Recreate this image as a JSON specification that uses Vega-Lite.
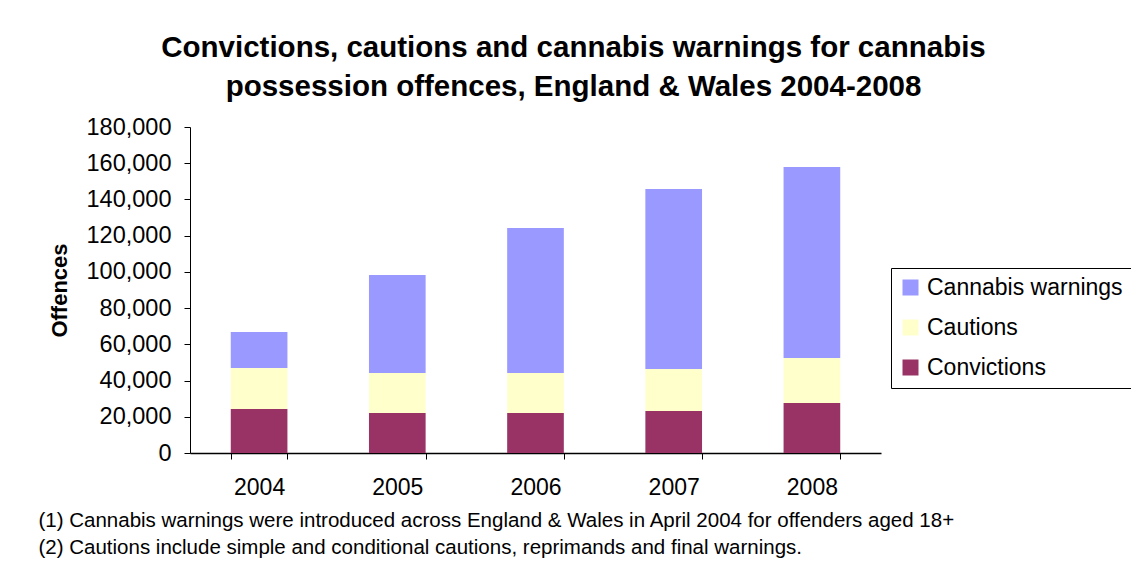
{
  "$schema": "https://vega.github.io/schema/vega-lite/v6.json",
  "width": 691,
  "height": 326,
  "autosize": {"type": "none"},
  "padding": {"left": 190, "top": 127, "right": 250, "bottom": 109},
  "background": "white",
  "config": {
    "view": {"stroke": null},
    "font": "Liberation Sans"
  },
  "title": {
    "text": ["Convictions, cautions and cannabis warnings for cannabis", "possession offences, England & Wales 2004-2008"],
    "fontSize": 29.5,
    "fontWeight": "bold",
    "font": "Liberation Sans",
    "color": "black",
    "anchor": "middle",
    "frame": "group",
    "dx": 38,
    "lineHeight": 39,
    "baseline": "bottom",
    "offset": -16
  },
  "data": {
    "values": [
      {"year": "2004", "category": "Convictions", "offences": 24300},
      {"year": "2004", "category": "Cautions", "offences": 22600},
      {"year": "2004", "category": "Cannabis warnings", "offences": 19900},
      {"year": "2005", "category": "Convictions", "offences": 22100},
      {"year": "2005", "category": "Cautions", "offences": 22100},
      {"year": "2005", "category": "Cannabis warnings", "offences": 54100},
      {"year": "2006", "category": "Convictions", "offences": 22100},
      {"year": "2006", "category": "Cautions", "offences": 22100},
      {"year": "2006", "category": "Cannabis warnings", "offences": 80000},
      {"year": "2007", "category": "Convictions", "offences": 23200},
      {"year": "2007", "category": "Cautions", "offences": 23200},
      {"year": "2007", "category": "Cannabis warnings", "offences": 99400},
      {"year": "2008", "category": "Convictions", "offences": 27600},
      {"year": "2008", "category": "Cautions", "offences": 24900},
      {"year": "2008", "category": "Cannabis warnings", "offences": 105400}
    ]
  },
  "mark": {"type": "bar"},
  "encoding": {
    "x": {
      "field": "year",
      "type": "nominal",
      "scale": {"paddingInner": 0.59, "paddingOuter": 0.295},
      "axis": {
        "labelAngle": 0,
        "labelFontSize": 23,
        "labelColor": "black",
        "labelPadding": 17,
        "tickBand": "extent",
        "tickSize": 6,
        "tickColor": "black",
        "domainColor": "black",
        "domainWidth": 1.5,
        "grid": false,
        "title": ["(1) Cannabis warnings were introduced across England & Wales in April 2004 for offenders aged 18+", "(2) Cautions include simple and conditional cautions, reprimands and final warnings."],
        "titleFontSize": 20.5,
        "titleFontWeight": "normal",
        "titleColor": "black",
        "titleAnchor": "start",
        "titleAlign": "left",
        "titleBaseline": "alphabetic",
        "titleAngle": 0,
        "titleX": -152,
        "titleY": 73,
        "titleLineHeight": 27
      }
    },
    "y": {
      "field": "offences",
      "type": "quantitative",
      "stack": "zero",
      "scale": {"domain": [0, 180000], "nice": false},
      "axis": {
        "values": [0, 20000, 40000, 60000, 80000, 100000, 120000, 140000, 160000, 180000],
        "format": ",d",
        "labelFontSize": 23.5,
        "labelColor": "black",
        "labelPadding": 13,
        "tickSize": 6,
        "tickColor": "black",
        "domainColor": "black",
        "grid": false,
        "title": "Offences",
        "titleFontSize": 22,
        "titleFontWeight": "bold",
        "titleColor": "black",
        "titleAngle": -90,
        "titleAlign": "center",
        "titleBaseline": "middle",
        "titleX": -131,
        "titleY": 163
      }
    },
    "color": {
      "field": "category",
      "type": "nominal",
      "scale": {
        "domain": ["Cannabis warnings", "Cautions", "Convictions"],
        "range": ["#9999FF", "#FFFFCC", "#993366"]
      },
      "legend": {
        "title": null,
        "orient": "none",
        "legendX": 701,
        "legendY": 141,
        "strokeColor": "black",
        "fillColor": "white",
        "padding": 8,
        "symbolType": "square",
        "symbolSize": 256,
        "symbolStrokeWidth": 0,
        "labelFontSize": 23,
        "labelColor": "black",
        "labelOffset": 5,
        "rowPadding": 16,
        "labelLimit": 300
      }
    },
    "order": {"field": "category", "sort": "descending"}
  }
}
